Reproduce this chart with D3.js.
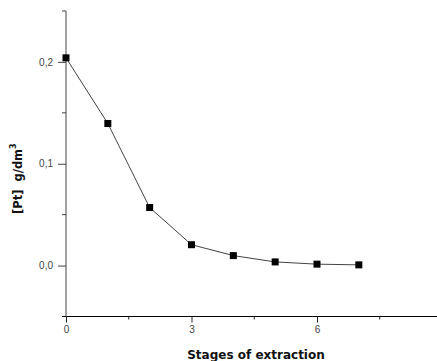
<!DOCTYPE html>
<html>
<head>
<meta charset="utf-8">
<script src="https://cdn.jsdelivr.net/npm/d3@7"></script>
<style>
  body { margin: 0; background: #fff; }
  text { font-family: "Liberation Sans", Arial, sans-serif; }
  .title { font-family: "DejaVu Sans", Verdana, sans-serif; font-weight: bold; }
</style>
</head>
<body>
<div id="chart"></div>
<script>
// data
var stages = [0, 1, 2, 3, 4, 5, 6, 7];
var ptValues = [0.204, 0.1395, 0.057, 0.0205, 0.0098, 0.0036, 0.0014, 0.0007];
var xTicks = [0, 3, 6];
var xMinorTicks = [1.5, 4.5, 7.5];
var yTicks = [0, 0.1, 0.2];
var yTickLabels = ["0,0", "0,1", "0,2"];
var yMinorTicks = [0.05, 0.15, 0.25];

var svgWidth = 437;
var svgHeight = 361;

var svg = d3.select("#chart")
  .append("svg")
  .attr("width", svgWidth)
  .attr("height", svgHeight);

var xScale = d3.scaleLinear()
  .domain([0, 9])
  .range([66, 442.5]);

var yScale = d3.scaleLinear()
  .domain([-0.05, 0.25])
  .range([316.5, 11]);

// x axis
var xAxis = svg.append("g")
  .attr("transform", `translate(0, ${yScale(-0.05)})`)
  .call(d3.axisBottom(xScale).tickValues(xTicks).tickSize(6).tickPadding(3)
    .tickFormat(d3.format("d")));
xAxis.select(".domain").attr("d", `M62,0H${svgWidth}`).attr("stroke", "#000");
xAxis.selectAll(".tick line").attr("stroke", "#222");
xAxis.append("g").selectAll("line")
  .data(xMinorTicks)
  .enter().append("line")
  .attr("x1", d => xScale(d)).attr("x2", d => xScale(d))
  .attr("y1", 0).attr("y2", 3)
  .attr("stroke", "#222");

// y axis
var yAxis = svg.append("g")
  .attr("transform", `translate(${xScale(0)}, 0)`)
  .call(d3.axisLeft(yScale).tickValues(yTicks).tickSize(8).tickPadding(5)
    .tickFormat((d, i) => yTickLabels[i]));
yAxis.select(".domain").attr("d", `M0,${yScale(0.25)}V${yScale(-0.05)}`).attr("stroke", "#444");
yAxis.selectAll(".tick line").attr("stroke", "#444");
yAxis.append("g").selectAll("line")
  .data(yMinorTicks)
  .enter().append("line")
  .attr("y1", d => yScale(d)).attr("y2", d => yScale(d))
  .attr("x1", 0).attr("x2", -4)
  .attr("stroke", "#444");

svg.selectAll(".tick text")
  .attr("font-size", 10)
  .attr("fill", "#444");

// line + square markers
var line = d3.line()
  .x((d, i) => xScale(stages[i]))
  .y(d => yScale(d));

svg.append("path")
  .datum(ptValues)
  .attr("d", line)
  .attr("fill", "none")
  .attr("stroke", "#444")
  .attr("stroke-width", 1);

svg.selectAll(".marker")
  .data(ptValues)
  .enter().append("rect")
  .attr("class", "marker")
  .attr("x", (d, i) => xScale(stages[i]) - 3.5)
  .attr("y", d => yScale(d) - 3.5)
  .attr("width", 7)
  .attr("height", 7)
  .attr("fill", "#000");

// axis titles
svg.append("text")
  .attr("class", "title")
  .attr("x", 256)
  .attr("y", 359)
  .attr("text-anchor", "middle")
  .attr("font-size", 12)
  .attr("fill", "#111")
  .text("Stages of extraction");

var yTitle = svg.append("text")
  .attr("class", "title")
  .attr("transform", "rotate(-90)")
  .attr("x", -214)
  .attr("y", 22)
  .attr("font-size", 11.5)
  .attr("fill", "#111")
  .attr("xml:space", "preserve");
yTitle.append("tspan").text("[Pt]  g/dm");
yTitle.append("tspan").attr("font-size", 8).attr("dy", -6).text("3");
</script>
</body>
</html>
